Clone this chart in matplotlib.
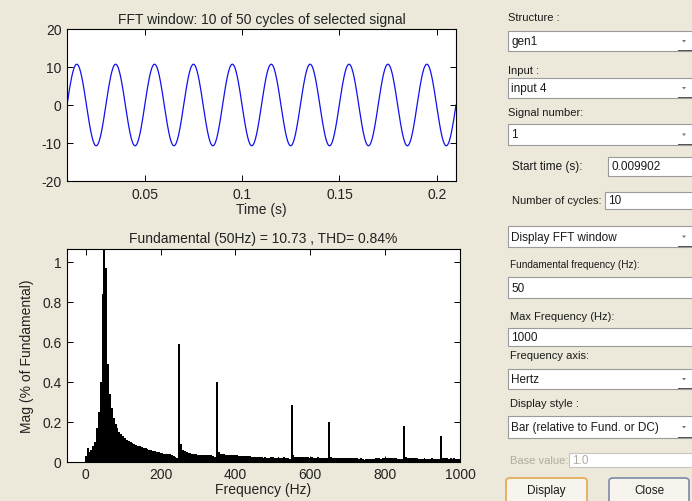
import numpy as np
import matplotlib
matplotlib.use("Agg")
import matplotlib.pyplot as plt
from matplotlib.patches import Rectangle, FancyBboxPatch, Polygon

plt.rcParams['font.family'] = ['Liberation Sans', 'DejaVu Sans']

# ---------------- data ----------------
top_title = "FFT window: 10 of 50 cycles of selected signal"
bottom_title = "Fundamental (50Hz) = 10.73 , THD= 0.84%"
fund_freq = 50.0          # Hz
fund_amp = 10.73          # peak value of the displayed signal
start_time = 0.009902     # s
n_cycles = 10
time_ticks = [0.05, 0.1, 0.15, 0.2]
time_ticklabels = ["0.05", "0.1", "0.15", "0.2"]
sig_ticks = [-20, -10, 0, 10, 20]
sig_ticklabels = ["-20", "-10", "0", "10", "20"]

freq_step = 5  # Hz (FFT resolution of a 10-cycle window)
mag = [
    0.03, 0.07, 0.05, 0.06, 0.08, 0.10, 0.17, 0.25, 0.40, 0.84,          # 0-45
    100.0, 0.97, 0.49, 0.34, 0.27, 0.22, 0.19, 0.17, 0.15, 0.14,         # 50-95
    0.13, 0.12, 0.11, 0.105, 0.10, 0.095, 0.09, 0.085, 0.08, 0.078,      # 100-145
    0.075, 0.07, 0.068, 0.065, 0.06, 0.058, 0.055, 0.052, 0.05, 0.048,   # 150-195
    0.045, 0.043, 0.04, 0.04, 0.038, 0.036, 0.035, 0.03, 0.025, 0.02,    # 200-245
    0.59, 0.09, 0.06, 0.055, 0.05, 0.045, 0.042, 0.04, 0.038, 0.036,     # 250-295
    0.035, 0.034, 0.035, 0.033, 0.032, 0.034, 0.033, 0.032, 0.03, 0.025, # 300-345
    0.40, 0.05, 0.04, 0.038, 0.036, 0.035, 0.035, 0.034, 0.033, 0.032,   # 350-395
    0.032, 0.031, 0.03, 0.03, 0.029, 0.028, 0.028, 0.027, 0.026, 0.022,  # 400-445
    0.022, 0.022, 0.021, 0.022, 0.021, 0.02, 0.021, 0.02, 0.02, 0.021,   # 450-495
    0.021, 0.02, 0.02, 0.021, 0.02, 0.02, 0.021, 0.02, 0.018, 0.015,     # 500-545
    0.285, 0.035, 0.025, 0.024, 0.023, 0.024, 0.023, 0.022, 0.022, 0.021,# 550-595
    0.02, 0.021, 0.02, 0.02, 0.021, 0.02, 0.02, 0.019, 0.018, 0.016,     # 600-645
    0.20, 0.022, 0.02, 0.02, 0.019, 0.02, 0.019, 0.018, 0.019, 0.018,    # 650-695
    0.017, 0.018, 0.017, 0.016, 0.017, 0.016, 0.015, 0.016, 0.012, 0.01, # 700-745
    0.012, 0.013, 0.012, 0.013, 0.015, 0.016, 0.017, 0.016, 0.015, 0.017,# 750-795
    0.018, 0.017, 0.016, 0.017, 0.018, 0.016, 0.017, 0.015, 0.014, 0.012,# 800-845
    0.18, 0.022, 0.02, 0.019, 0.018, 0.017, 0.016, 0.017, 0.015, 0.014,  # 850-895
    0.015, 0.016, 0.015, 0.014, 0.015, 0.016, 0.014, 0.013, 0.012, 0.011,# 900-945
    0.13, 0.02, 0.017, 0.016, 0.015, 0.016, 0.015, 0.016, 0.015, 0.014,  # 950-995
    0.013,                                                               # 1000
]
freq_ticks = [0, 200, 400, 600, 800, 1000]
freq_ticklabels = ["0", "200", "400", "600", "800", "1000"]
mag_ticks = [0, 0.2, 0.4, 0.6, 0.8, 1.0]
mag_ticklabels = ["0", "0.2", "0.4", "0.6", "0.8", "1"]

# GUI panel content
panel_labels = ["Structure :", "Input :", "Signal number:", "Start time (s):",
                "Number of cycles:", "Fundamental frequency (Hz):",
                "Max Frequency (Hz):", "Frequency axis:", "Display style :",
                "Base value:"]
panel_values = ["gen1", "input 4", "1", "0.009902", "10", "Display FFT window",
                "50", "1000", "Hertz", "Bar (relative to Fund. or DC)", "1.0"]
button_labels = ["Display", "Close"]

# ---------------- figure ----------------
W, H = 692, 502
BG = "#ECE9DA"
fig = plt.figure(figsize=(W / 100, H / 100), dpi=100, facecolor=BG)

def fx(x):
    return x / W

def fy(y):
    return 1 - y / H

def add_ax(l, t, r, b):
    return fig.add_axes([fx(l), fy(b), fx(r) - fx(l), (b - t) / H])

FS = 10
TICKC = "#222222"
tick_kw = dict(direction="in", top=True, right=True, length=4, width=0.7,
               labelsize=FS, pad=4, colors="black", labelcolor=TICKC)

# top signal plot
ax1 = add_ax(67, 30, 456, 182)
t = np.linspace(start_time, start_time + n_cycles / fund_freq, 2001)
sig = fund_amp * np.sin(2 * np.pi * fund_freq * (t - start_time))
ax1.plot(t, sig, color="#1010F0", lw=0.9)
ax1.set_xlim(start_time, start_time + n_cycles / fund_freq)
ax1.set_ylim(-20, 20)
ax1.set_xticks(time_ticks)
ax1.set_xticklabels(time_ticklabels)
ax1.set_yticks(sig_ticks)
ax1.set_yticklabels(sig_ticklabels)
ax1.tick_params(**tick_kw)
ax1.set_title(top_title, fontsize=FS, pad=4, color=TICKC)
ax1.set_xlabel("Time (s)", fontsize=FS, labelpad=1, color=TICKC)

# bottom spectrum
ax2 = add_ax(67, 250, 460, 462.5)
freqs = np.arange(len(mag)) * freq_step
ax2.bar(freqs, mag, width=5, color="black", linewidth=0, antialiased=False)
ax2.set_xlim(-50, 1000)
ax2.set_ylim(0, 1.063)
ax2.set_xticks(freq_ticks)
ax2.set_xticklabels(freq_ticklabels)
ax2.set_yticks(mag_ticks)
ax2.set_yticklabels(mag_ticklabels)
ax2.tick_params(**tick_kw)
ax2.set_title(bottom_title, fontsize=FS, pad=5, color=TICKC)
ax2.set_xlabel("Frequency (Hz)", fontsize=FS, labelpad=1, color=TICKC)
ax2.set_ylabel("Mag (% of Fundamental)", fontsize=FS, labelpad=6, color=TICKC)

for ax in (ax1, ax2):
    for s in ax.spines.values():
        s.set_linewidth(0.8)

# ---------------- GUI panel ----------------
LFS = 8.0   # label font size
BFS = 8.5   # box text font size
TXT = "#1a1a1a"
GREY_TXT = "#b0ada0"

def label(x, y, s, color=TXT, size=LFS):
    fig.text(fx(x), fy(y), s, fontsize=size, color=color, ha="left", va="center")

def box(l, t, r, b, s, dropdown=False, color=TXT, edge="#9a9a9a"):
    fig.patches.append(Rectangle((fx(l), fy(b)), fx(r) - fx(l), (b - t) / H,
                                 transform=fig.transFigure, facecolor="white",
                                 edgecolor=edge, linewidth=0.8))
    fig.text(fx(l + 3), fy((t + b) / 2), s, fontsize=BFS, color=color,
             ha="left", va="center")
    if dropdown:
        cx, cy = 684, (t + b) / 2
        fig.patches.append(Polygon([(fx(cx - 2), fy(cy - 1)), (fx(cx + 2), fy(cy - 1)),
                                    (fx(cx), fy(cy + 1.5))], closed=True,
                                   transform=fig.transFigure, facecolor="#777777",
                                   edgecolor="none"))
        fig.patches.append(Rectangle((fx(678), fy(b)), fx(692) - fx(678), 1.5 / H,
                                     transform=fig.transFigure, facecolor="#555555",
                                     edgecolor="none"))

label(508, 18, panel_labels[0])
box(508, 32, 693, 52, panel_values[0], dropdown=True)
label(508, 71, panel_labels[1])
box(508, 79, 693, 99, panel_values[1], dropdown=True)
label(508, 113, panel_labels[2])
box(508, 125, 693, 146, panel_values[2], dropdown=True)
label(512, 167, panel_labels[3], size=8.5)
box(608, 158, 693, 177, panel_values[3])
label(512, 201, panel_labels[4])
box(605, 193, 693, 210, panel_values[4])
box(508, 227, 693, 248, panel_values[5], dropdown=True)
label(510, 265, panel_labels[5], size=7.2)
box(508, 278, 693, 299, panel_values[6])
label(510, 317, panel_labels[6])
box(508, 329, 693, 347, panel_values[7])
label(510, 356, panel_labels[7])
box(508, 370, 693, 390, panel_values[8], dropdown=True)
label(510, 404, panel_labels[8])
box(508, 417, 693, 439, panel_values[9], dropdown=True)
label(510, 461, panel_labels[9], color=GREY_TXT)
box(569, 454, 693, 468, panel_values[10], color=GREY_TXT, edge="#c8c6bc")

def button(l, t, r, b, s, edge):
    fig.patches.append(FancyBboxPatch((fx(l), fy(b)), fx(r) - fx(l), (b - t) / H,
                                      boxstyle="round,pad=0,rounding_size=0.006",
                                      transform=fig.transFigure, facecolor="#F6F4EC",
                                      edgecolor=edge, linewidth=1.2))
    fig.text(fx((l + r) / 2), fy(491), s, fontsize=BFS, color=TXT,
             ha="center", va="center")

button(506, 479, 587, 506, button_labels[0], "#E3A850")
button(609, 479, 689, 506, button_labels[1], "#7D8AA5")

fig.savefig("out.png", dpi=100, facecolor=BG)
